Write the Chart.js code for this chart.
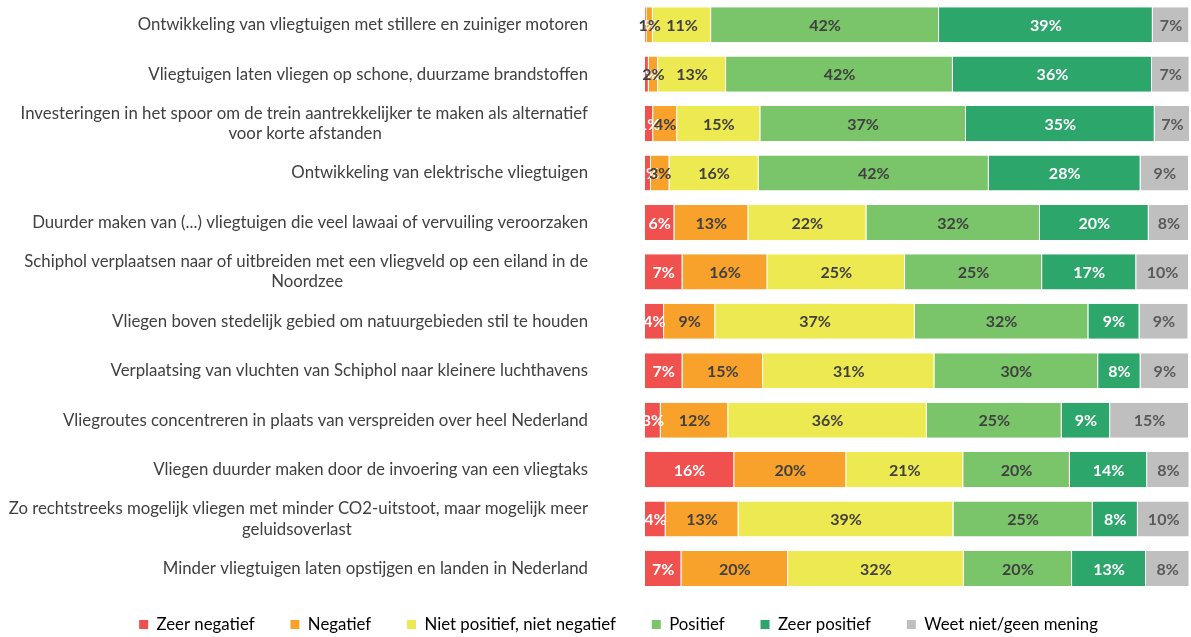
<!DOCTYPE html>
<html><head><meta charset="utf-8">
<script src="https://cdn.jsdelivr.net/npm/chart.js@4.4.1/dist/chart.umd.min.js"></script>
<style>html,body{margin:0;padding:0;background:#fff;} #wrap{width:1191px;height:637px;position:relative;}</style>
</head><body><div id="wrap"><canvas id="c"></canvas></div>
<script>
const FONT = 'Lato';

const categories = [
  "Ontwikkeling van vliegtuigen met stillere en zuiniger motoren",
  "Vliegtuigen laten vliegen op schone, duurzame brandstoffen",
  ["Investeringen in het spoor om de trein aantrekkelijker te maken als alternatief", "voor korte afstanden"],
  "Ontwikkeling van elektrische vliegtuigen",
  "Duurder maken van (...) vliegtuigen die veel lawaai of vervuiling veroorzaken",
  ["Schiphol verplaatsen naar of uitbreiden met een vliegveld op een eiland in de", "Noordzee"],
  "Vliegen boven stedelijk gebied om natuurgebieden stil te houden",
  "Verplaatsing van vluchten van Schiphol naar kleinere luchthavens",
  "Vliegroutes concentreren in plaats van verspreiden over heel Nederland",
  "Vliegen duurder maken door de invoering van een vliegtaks",
  ["Zo rechtstreeks mogelijk vliegen met minder CO2-uitstoot, maar mogelijk meer", "geluidsoverlast"],
  "Minder vliegtuigen laten opstijgen en landen in Nederland"
];

const seriesNames = ["Zeer negatief", "Negatief", "Niet positief, niet negatief", "Positief", "Zeer positief", "Weet niet/geen mening"];

const zeerNegatief = [0.25, 0.7, 1.5, 1.1, 5.4, 6.9, 3.5, 6.9, 2.9, 16.4, 3.8, 6.7];
const negatief     = [1.2, 1.7, 4.4, 3.4, 13.6, 15.6, 9.4, 14.8, 12.4, 20.6, 13.4, 19.6];
const neutraal     = [10.7, 12.5, 15.3, 16.4, 21.7, 25.3, 36.7, 31.5, 36.5, 21.5, 39.5, 32.3];
const positief     = [41.9, 41.7, 37.8, 42.3, 31.9, 25.2, 31.9, 30.1, 24.8, 19.6, 25.6, 19.9];
const zeerPositief = [39.3, 36.6, 34.7, 27.9, 20.0, 17.3, 9.4, 7.8, 8.9, 14.2, 8.3, 13.6];
const weetNiet     = [6.7, 6.9, 6.5, 8.9, 7.4, 9.7, 9.0, 8.9, 14.5, 7.8, 9.5, 8.0];

const zeerNegatiefLabels = ["0%","1%","1%","1%","6%","7%","4%","7%","3%","16%","4%","7%"];
const negatiefLabels     = ["1%","2%","4%","3%","13%","16%","9%","15%","12%","20%","13%","20%"];
const neutraalLabels     = ["11%","13%","15%","16%","22%","25%","37%","31%","36%","21%","39%","32%"];
const positiefLabels     = ["42%","42%","37%","42%","32%","25%","32%","30%","25%","20%","25%","20%"];
const zeerPositiefLabels = ["39%","36%","35%","28%","20%","17%","9%","8%","9%","14%","8%","13%"];
const weetNietLabels     = ["7%","7%","7%","9%","8%","10%","9%","9%","15%","8%","10%","8%"];

const colors = ["#F0504E", "#F8A22B", "#EDE950", "#7AC46A", "#2DA66B", "#BFBFBF"];
const labelColors = ["#FFFFFF", "#404040", "#404040", "#404040", "#FFFFFF", "#595959"];

const allValues = [zeerNegatief, negatief, neutraal, positief, zeerPositief, weetNiet];
const allLabels = [zeerNegatiefLabels, negatiefLabels, neutraalLabels, positiefLabels, zeerPositiefLabels, weetNietLabels];

const CAT_FONT_SIZE = 16.8;

// centre the continuation line of a wrapped label under its first line
const mctx = document.createElement('canvas').getContext('2d');
mctx.font = CAT_FONT_SIZE + 'px ' + FONT;
const spaceW = mctx.measureText(' ').width;
const tickLabels = categories.map(c => {
  if (!Array.isArray(c)) return c;
  const w0 = mctx.measureText(c[0]).width;
  return c.map((l, i) => i === 0 ? l : l + ' '.repeat(Math.max(0, Math.round((w0 - mctx.measureText(l).width) / 2 / spaceW))));
});

const valueLabelPlugin = {
  id: 'valueLabels',
  afterDatasetsDraw(chart) {
    const ctx = chart.ctx;
    ctx.save();
    ctx.font = 'bold 16px ' + FONT;
    ctx.textAlign = 'center';
    ctx.textBaseline = 'middle';
    chart.data.datasets.forEach((ds, di) => {
      const meta = chart.getDatasetMeta(di);
      ctx.fillStyle = labelColors[di];
      meta.data.forEach((el, i) => {
        const p = el.getProps(['x', 'base', 'y'], true);
        ctx.fillText(allLabels[di][i], (p.x + p.base) / 2, p.y + 1);
      });
    });
    ctx.restore();
  }
};

// shift the legend block so it is centred like in the original
const legendShift = {
  id: 'legendShift',
  afterLayout(chart) {
    if (chart.legend) { chart.legend.left = 48; }
  }
};

new Chart(document.getElementById('c'), {
  type: 'bar',
  data: {
    labels: tickLabels,
    datasets: seriesNames.map((name, i) => ({
      label: name,
      data: allValues[i],
      backgroundColor: colors[i],
      borderColor: '#FFFFFF',
      borderWidth: {left: 0, right: 1, top: 0, bottom: 0},
      borderSkipped: false,
      barPercentage: 0.71,
      categoryPercentage: 1.0
    }))
  },
  options: {
    indexAxis: 'y',
    responsive: true,
    maintainAspectRatio: false,
    animation: false,
    layout: {padding: {left: 0, right: 2, top: 0, bottom: -6}},
    scales: {
      x: {stacked: true, min: 0, max: 100, display: false},
      y: {
        stacked: true,
        grid: {display: false, drawTicks: true, tickLength: 57},
        border: {display: false},
        ticks: {autoSkip: false, padding: 0, color: '#404040', font: {family: FONT, size: CAT_FONT_SIZE, lineHeight: 1.2}},
        afterFit: s => { s.width = 645; s.paddingTop = 0; s.paddingBottom = 0; }
      }
    },
    plugins: {
      tooltip: {enabled: false},
      legend: {
        position: 'bottom',
        labels: {
          padding: 23,
          boxWidth: 9,
          boxHeight: 9,
          color: '#404040',
          font: {family: FONT, size: CAT_FONT_SIZE},
          generateLabels: chart => chart.data.datasets.map((ds, i) => ({
            text: ds.label + (i < chart.data.datasets.length - 1 ? '   ' : ''),
            fillStyle: colors[i],
            strokeStyle: colors[i],
            lineWidth: 0,
            hidden: false,
            datasetIndex: i
          }))
        }
      }
    }
  },
  plugins: [valueLabelPlugin, legendShift]
});
</script>
</body></html>
